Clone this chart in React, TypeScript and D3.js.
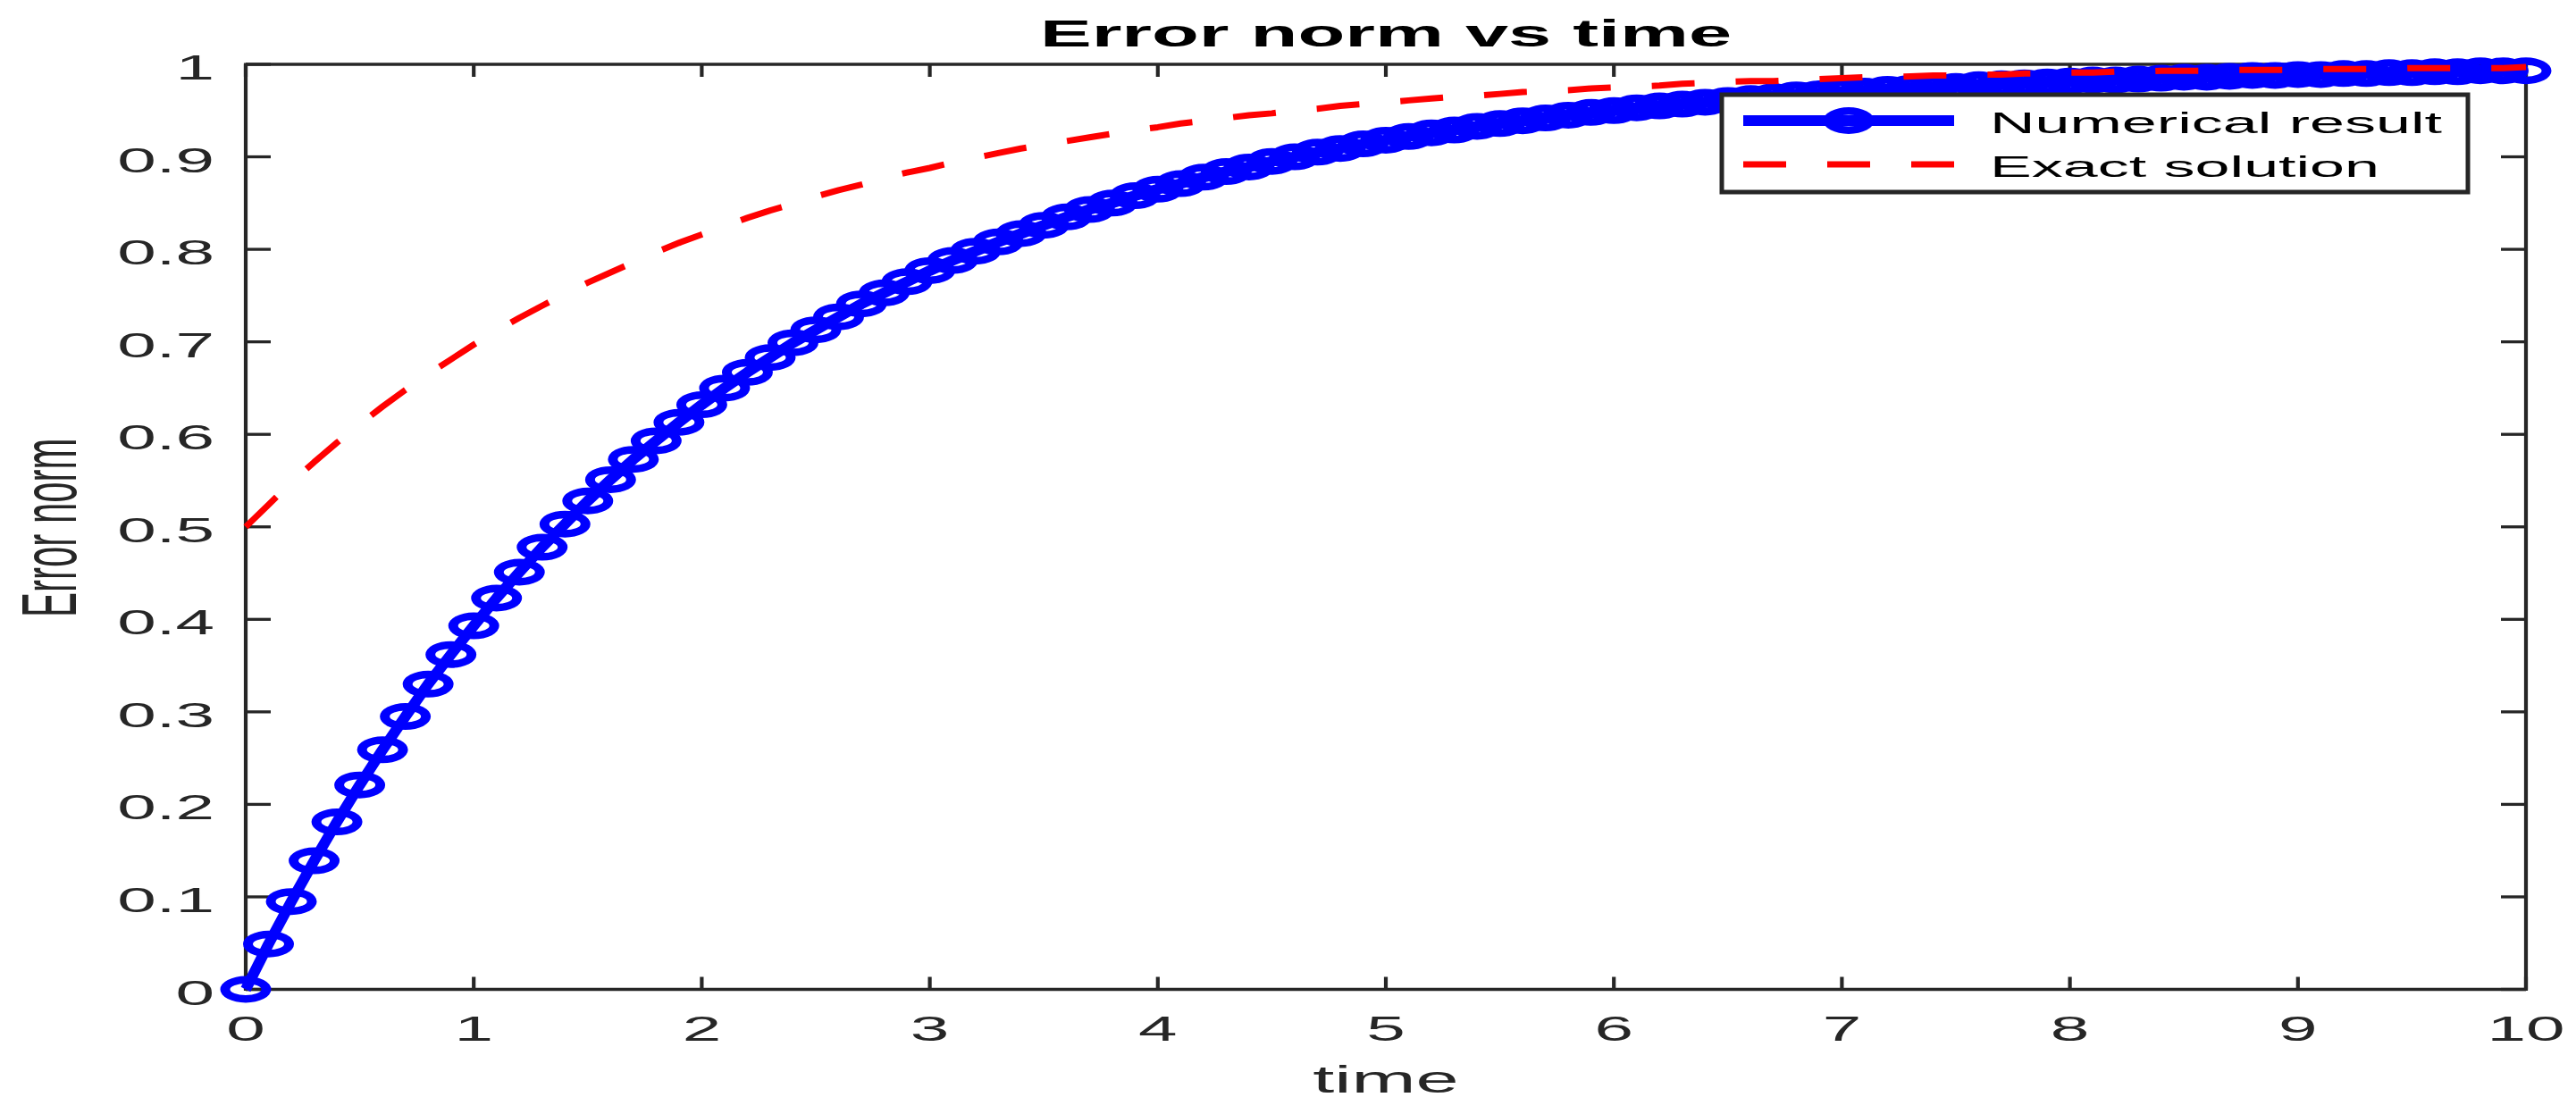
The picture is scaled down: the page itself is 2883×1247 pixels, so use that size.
import React from "react";
import * as d3 from "d3";

// ---- data ----
const timeStep = 0.1;
const numericalResult = [
  0.000, 0.049, 0.095, 0.139, 0.181, 0.221, 0.259, 0.295, 0.330, 0.362,
  0.393, 0.423, 0.451, 0.478, 0.503, 0.528, 0.551, 0.573, 0.593, 0.613,
  0.632, 0.650, 0.667, 0.683, 0.699, 0.713, 0.727, 0.741, 0.753, 0.765,
  0.777, 0.788, 0.798, 0.808, 0.817, 0.826, 0.835, 0.843, 0.850, 0.858,
  0.865, 0.871, 0.878, 0.884, 0.889, 0.895, 0.900, 0.905, 0.909, 0.914,
  0.918, 0.922, 0.926, 0.929, 0.933, 0.936, 0.939, 0.942, 0.945, 0.948,
  0.950, 0.953, 0.955, 0.957, 0.959, 0.961, 0.963, 0.965, 0.967, 0.968,
  0.970, 0.971, 0.973, 0.974, 0.975, 0.976, 0.978, 0.979, 0.980, 0.981,
  0.982, 0.983, 0.983, 0.984, 0.985, 0.986, 0.986, 0.987, 0.988, 0.988,
  0.989, 0.989, 0.990, 0.990, 0.991, 0.991, 0.992, 0.992, 0.993, 0.993,
  0.993,
];
const exactSolution = [
  0.500, 0.524, 0.548, 0.570, 0.591, 0.611, 0.630, 0.648, 0.665, 0.681,
  0.697, 0.712, 0.726, 0.739, 0.752, 0.764, 0.775, 0.786, 0.797, 0.807,
  0.816, 0.825, 0.834, 0.842, 0.849, 0.857, 0.864, 0.870, 0.877, 0.883,
  0.888, 0.894, 0.899, 0.904, 0.909, 0.913, 0.917, 0.921, 0.925, 0.929,
  0.932, 0.936, 0.939, 0.942, 0.945, 0.947, 0.950, 0.952, 0.955, 0.957,
  0.959, 0.961, 0.963, 0.965, 0.966, 0.968, 0.970, 0.971, 0.972, 0.974,
  0.975, 0.976, 0.977, 0.979, 0.980, 0.981, 0.982, 0.982, 0.983, 0.984,
  0.985, 0.986, 0.986, 0.987, 0.988, 0.988, 0.989, 0.989, 0.990, 0.990,
  0.991, 0.991, 0.992, 0.992, 0.993, 0.993, 0.993, 0.994, 0.994, 0.994,
  0.994, 0.995, 0.995, 0.995, 0.995, 0.996, 0.996, 0.996, 0.996, 0.996,
  0.997,
];
const xTicks = [0, 1, 2, 3, 4, 5, 6, 7, 8, 9, 10];
const yTicks = [0, 0.1, 0.2, 0.3, 0.4, 0.5, 0.6, 0.7, 0.8, 0.9, 1];
const seriesNames = ["Numerical result", "Exact solution"];
const titleText = "Error norm vs time";
const xLabel = "time";
const yLabel = "Error norm";

// ---- layout / style ----
const W = 2883;
const H = 1247;
const PL = 275, PR = 2827, PT = 72, PB = 1107.5;
const SX = 2.06; // horizontal stretch of the original figure
const FONT = "'Liberation Sans', Arial, Helvetica, sans-serif";
const AX = "#262626";
const BLUE = "#0000FF";
const RED = "#FF0000";

function ellipseRing(cx: number, cy: number, rxo: number, ryo: number, rxi: number, ryi: number) {
  const e = (rx: number, ry: number) =>
    `M${cx - rx},${cy}A${rx},${ry} 0 1,0 ${cx + rx},${cy}A${rx},${ry} 0 1,0 ${cx - rx},${cy}Z`;
  return e(rxo, ryo) + e(rxi, ryi);
}

function SText({ x, y, children, size, anchor = "middle", weight = "normal", fill = AX, rotate = 0 }: any) {
  return (
    <text
      transform={`translate(${x},${y}) scale(${SX},1)${rotate ? ` rotate(${rotate})` : ""}`}
      fontSize={size}
      fontFamily={FONT}
      fontWeight={weight}
      textAnchor={anchor}
      fill={fill}
    >
      {children}
    </text>
  );
}

export default function App() {
  const times = d3.range(numericalResult.length).map((i) => +(i * timeStep).toFixed(2));
  const x = d3.scaleLinear().domain([0, 10]).range([PL, PR]);
  const y = d3.scaleLinear().domain([0, 1]).range([PB, PT]);

  const numData = times.map((t, i) => [t, numericalResult[i]] as [number, number]);
  const exData = times.map((t, i) => [t, exactSolution[i]] as [number, number]);
  const line = d3
    .line<[number, number]>()
    .x((d) => x(d[0]))
    .y((d) => y(d[1]));

  const ring = (cx: number, cy: number) => ellipseRing(cx, cy, 28.5, 15, 17.5, 6.5);

  // legend geometry
  const LX0 = 1927, LX1 = 2762, LY0 = 106, LY1 = 215;
  const lineX0 = 1951, lineX1 = 2187;
  const row1 = 135, row2 = 184;

  return (
    <svg
      width={W}
      height={H}
      viewBox={`0 0 ${W} ${H}`}
      style={{ position: "absolute", left: 0, top: 0, display: "block", background: "#fff" }}
    >
      <rect x={0} y={0} width={W} height={H} fill="#fff" />

      {/* axes box */}
      <line x1={PL} x2={PR} y1={PB} y2={PB} stroke={AX} strokeWidth={3.3} />
      <line x1={PL} x2={PR} y1={PT} y2={PT} stroke={AX} strokeWidth={3.3} />
      <line x1={PL} x2={PL} y1={PT - 1.6} y2={PB + 1.6} stroke={AX} strokeWidth={4.2} />
      <line x1={PR} x2={PR} y1={PT - 1.6} y2={PB + 1.6} stroke={AX} strokeWidth={4.2} />

      {/* x ticks */}
      {xTicks.map((t) => (
        <g key={"xt" + t}>
          <line x1={x(t)} x2={x(t)} y1={PB} y2={PB - 14} stroke={AX} strokeWidth={4.2} />
          <line x1={x(t)} x2={x(t)} y1={PT} y2={PT + 14} stroke={AX} strokeWidth={4.2} />
          <SText x={x(t)} y={1165} size={38}>
            {String(t)}
          </SText>
        </g>
      ))}

      {/* y ticks */}
      {yTicks.map((t) => (
        <g key={"yt" + t}>
          <line x1={PL} x2={PL + 28} y1={y(t)} y2={y(t)} stroke={AX} strokeWidth={3.3} />
          <line x1={PR} x2={PR - 28} y1={y(t)} y2={y(t)} stroke={AX} strokeWidth={3.3} />
          <SText x={240} y={y(t) + 17} size={38} anchor="end">
            {d3.format("~g")(t)}
          </SText>
        </g>
      ))}

      {/* labels */}
      <SText x={(PL + PR) / 2} y={52} size={42} weight="bold" fill="#000">
        {titleText}
      </SText>
      <SText x={(PL + PR) / 2} y={1223} size={42}>
        {xLabel}
      </SText>
      <SText x={85} y={(PT + PB) / 2 + 1} size={42} rotate={-90}>
        {yLabel}
      </SText>

      {/* numerical result: line + circle markers */}
      <path
        d={line(numData) || ""}
        fill="none"
        stroke={BLUE}
        strokeWidth={12}
        strokeLinejoin="round"
      />
      {numData.map((d, i) => (
        <path key={"m" + i} d={ring(x(d[0]), y(d[1]))} fill={BLUE} fillRule="evenodd" />
      ))}

      {/* exact solution: dashed */}
      <path
        d={line(exData) || ""}
        fill="none"
        stroke={RED}
        strokeWidth={7}
        strokeDasharray="48 46"
        strokeLinejoin="round"
      />

      {/* legend */}
      <rect x={LX0} y={LY0} width={LX1 - LX0} height={LY1 - LY0} fill="#fff" stroke={AX} strokeWidth={5} />
      <line x1={lineX0} x2={lineX1} y1={row1} y2={row1} stroke={BLUE} strokeWidth={12} />
      <path d={ring((lineX0 + lineX1) / 2, row1)} fill={BLUE} fillRule="evenodd" />
      <line
        x1={lineX0}
        x2={lineX1}
        y1={row2}
        y2={row2}
        stroke={RED}
        strokeWidth={7}
        strokeDasharray="48 46"
      />
      <SText x={2227} y={149} size={34} anchor="start" fill="#000">
        {seriesNames[0]}
      </SText>
      <SText x={2227} y={198} size={34} anchor="start" fill="#000">
        {seriesNames[1]}
      </SText>
    </svg>
  );
}
